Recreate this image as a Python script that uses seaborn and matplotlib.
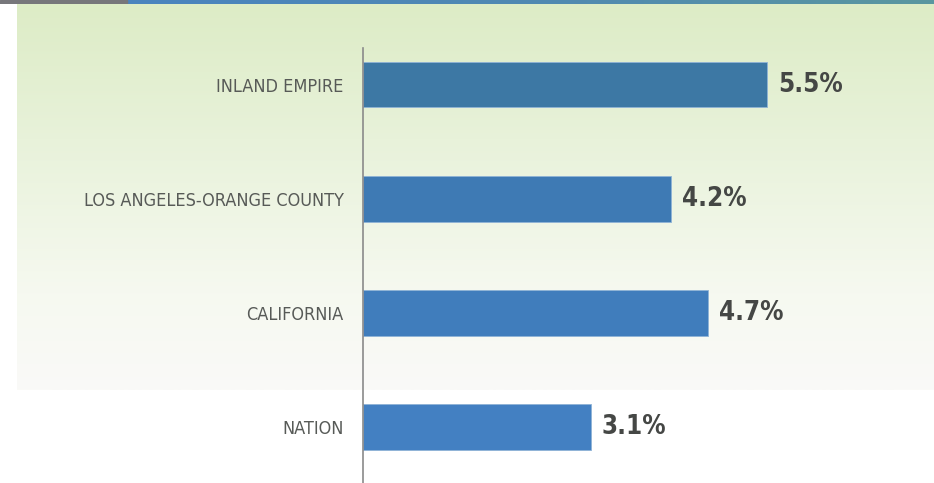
import numpy as np
import pandas as pd
import matplotlib
matplotlib.use('Agg')
import matplotlib.pyplot as plt
import seaborn as sns
from matplotlib import font_manager
from matplotlib.colors import LinearSegmentedColormap

# data
regions = ['INLAND EMPIRE', 'LOS ANGELES-ORANGE COUNTY', 'CALIFORNIA', 'NATION']
growth = [5.5, 4.2, 4.7, 3.1]
value_labels = ['5.5%', '4.2%', '4.7%', '3.1%']
bar_colors = ['#3d78a4', '#3e7ab4', '#407dbc', '#4380c2']

sns.set_style('white')

# pick the narrowest face available, the original uses a very condensed font
rank = {'ultra-condensed': 4, 'extra-condensed': 3, 'condensed': 2, 'semi-condensed': 1}
narrow, best = None, 0
for f in font_manager.fontManager.ttflist:
    r = rank.get(str(f.stretch), 0)
    if r == 0 and ('Condensed' in f.name or 'Narrow' in f.name):
        r = 2
    if r > best:
        narrow, best = (f.name, str(f.stretch) if str(f.stretch) in rank else 'normal'), r

if narrow:
    plt.rcParams['font.family'] = [narrow[0], 'DejaVu Sans']
    stretch = narrow[1]
else:
    plt.rcParams['font.family'] = ['DejaVu Sans']
    stretch = 'normal'

W, H = 934, 483
fig = plt.figure(figsize=(W / 100, H / 100), dpi=100)
fig.patch.set_facecolor('white')
renderer = fig.canvas.get_renderer()


def fit_size(text, target_px, bold=False):
    # font size that gives the text roughly the width it has in the original
    t = fig.text(0, 0, text, fontsize=10, fontstretch=stretch,
                 fontweight='bold' if bold else 'normal')
    w = t.get_window_extent(renderer).width
    t.remove()
    return 10 * target_px / w


# a bit bigger than a pure width fit, the original face is taller than it is wide
label_size = fit_size('LOS ANGELES-ORANGE COUNTY', 234) * 1.12
value_size = fit_size('5.5%', 54, bold=True) * 1.2

# background panel: green fading to near white
bg = fig.add_axes([17 / W, 1 - 390 / H, 1 - 17 / W, 386 / H], zorder=0)
grad_cmap = LinearSegmentedColormap.from_list(
    'bg', [(0, '#ddecc6'), (0.35, '#e8f2da'), (0.75, '#f6f9f0'), (1, '#fafaf8')])
bg.imshow(np.linspace(0, 1, 200).reshape(-1, 1), aspect='auto', cmap=grad_cmap,
          extent=[0, 1, 1, 0])
bg.set_axis_off()

# top strip
strip = fig.add_axes([0, 1 - 4 / H, 1, 4 / H], zorder=1)
strip_cmap = LinearSegmentedColormap.from_list(
    'strip', [(0, '#4a84bf'), (0.5, '#5089b2'), (1, '#5a97a0')])
strip.imshow(np.linspace(0, 1, 300).reshape(1, -1), aspect='auto', cmap=strip_cmap,
             extent=[127, W, 0, 1])
strip.axvspan(0, 127, color='#77777b')
strip.set_xlim(0, W)
strip.set_ylim(0, 1)
strip.set_axis_off()

# main bar chart
x0, x1 = 363, W
ax = fig.add_axes([x0 / W, 0, (x1 - x0) / W, 1 - 48 / H], zorder=2)
ax.patch.set_alpha(0)

df = pd.DataFrame({'region': regions, 'growth': growth})
sns.barplot(data=df, y='region', x='growth', hue='region', palette=bar_colors,
            orient='h', width=0.4, legend=False, saturation=1,
            edgecolor='#8fb3d6', linewidth=0.6, ax=ax)

px_per_unit = 73.4
ax.set_xlim(0, (x1 - x0) / px_per_unit)
ax.set_ylim(3.49, -0.32)

for i, (v, lab) in enumerate(zip(growth, value_labels)):
    ax.text(v + 11 / px_per_unit, i, lab, va='center', ha='left',
            fontsize=value_size, fontweight='bold', fontstretch=stretch, color='#454745')

ax.set_xlabel('')
ax.set_ylabel('')
ax.set_xticks([])
ax.tick_params(axis='y', length=0, pad=14, labelsize=label_size, labelcolor='#575a57')
for t in ax.get_yticklabels():
    t.set_fontstretch(stretch)
for s in ['top', 'right', 'bottom']:
    ax.spines[s].set_visible(False)
ax.spines['left'].set_color('#8a8a8a')
ax.spines['left'].set_linewidth(1.2)

fig.savefig('out.png', dpi=100)
